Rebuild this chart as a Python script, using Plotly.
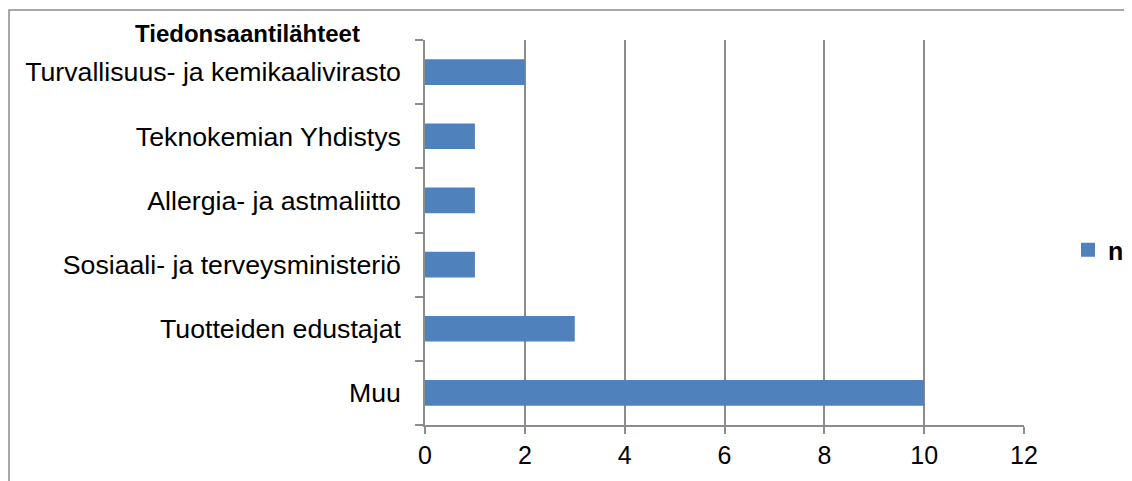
import plotly.graph_objects as go

categories = ["Muu", "Tuotteiden edustajat", "Sosiaali- ja terveysministeriö",
              "Allergia- ja astmaliitto", "Teknokemian Yhdistys",
              "Turvallisuus- ja kemikaalivirasto"]
values = [10, 3, 1, 1, 1, 2]
series_name = "n"
x_ticks = [0, 2, 4, 6, 8, 10, 12]
title_text = "Tiedonsaantilähteet"

W, H = 1132, 481
OFF = 8  # page body margin
L, R, T, B = 425 - OFF, 1024 - OFF, 40 - OFF, 425 - OFF
PW, PH = R - L, B - T

def px(x):
    return (x - OFF - L) / PW

def py(y):
    return (B - (y - OFF)) / PH

fig = go.Figure()
fig.add_trace(go.Bar(
    y=categories, x=values, orientation="h", name=series_name,
    marker=dict(color="#4F81BD", line=dict(width=0)),
    showlegend=False,
))
# legend entry with a larger square swatch
fig.add_trace(go.Scatter(
    x=[None], y=[None], mode="markers", name=series_name,
    marker=dict(symbol="square", size=14, color="#4F81BD", line=dict(width=0)),
    showlegend=True,
))

font = "Liberation Sans, Arial, sans-serif"
fig.update_layout(
    width=W, height=H,
    margin=dict(l=L, r=W - R, t=T, b=H - B, pad=0, autoexpand=False),
    paper_bgcolor="white", plot_bgcolor="white",
    bargap=0.6,
    font=dict(family=font, size=25, color="black"),
    showlegend=True,
    legend=dict(x=px(1068), y=py(250), xanchor="left", yanchor="middle",
                font=dict(size=25, family=font, weight="bold"),
                itemwidth=30, bgcolor="rgba(0,0,0,0)"),
    xaxis=dict(range=[0, 12], tickvals=x_ticks, showgrid=True,
               gridcolor="#8c8c8c", gridwidth=1.5, zeroline=False,
               showline=True, linecolor="#8c8c8c", linewidth=1.5,
               ticks="outside", ticklen=7, tickcolor="#8c8c8c", tickwidth=1.5,
               tickfont=dict(size=25), ticklabelstandoff=0,
               fixedrange=True),
    yaxis=dict(type="category", categoryorder="array", categoryarray=categories,
               tickson="boundaries", ticks="outside", ticklen=8,
               tickcolor="#8c8c8c", tickwidth=1.5,
               showline=True, linecolor="#8c8c8c", linewidth=1.5,
               showgrid=False, tickfont=dict(size=26.7), ticklabelstandoff=17,
               fixedrange=True),
    hovermode=False,
)

# outer chart border
fig.add_shape(type="rect", xref="paper", yref="paper",
              x0=px(9), x1=px(W + 40),
              y0=py(H + 40), y1=py(10),
              line=dict(color="#8c8c8c", width=1.5), fillcolor="rgba(0,0,0,0)",
              layer="below")

fig.add_annotation(text="<b>" + title_text + "</b>", xref="paper", yref="paper",
                   x=px(247), y=py(33),
                   xanchor="center", yanchor="middle", showarrow=False,
                   font=dict(size=24, family=font, color="black"))

fig.write_html("out.html")
